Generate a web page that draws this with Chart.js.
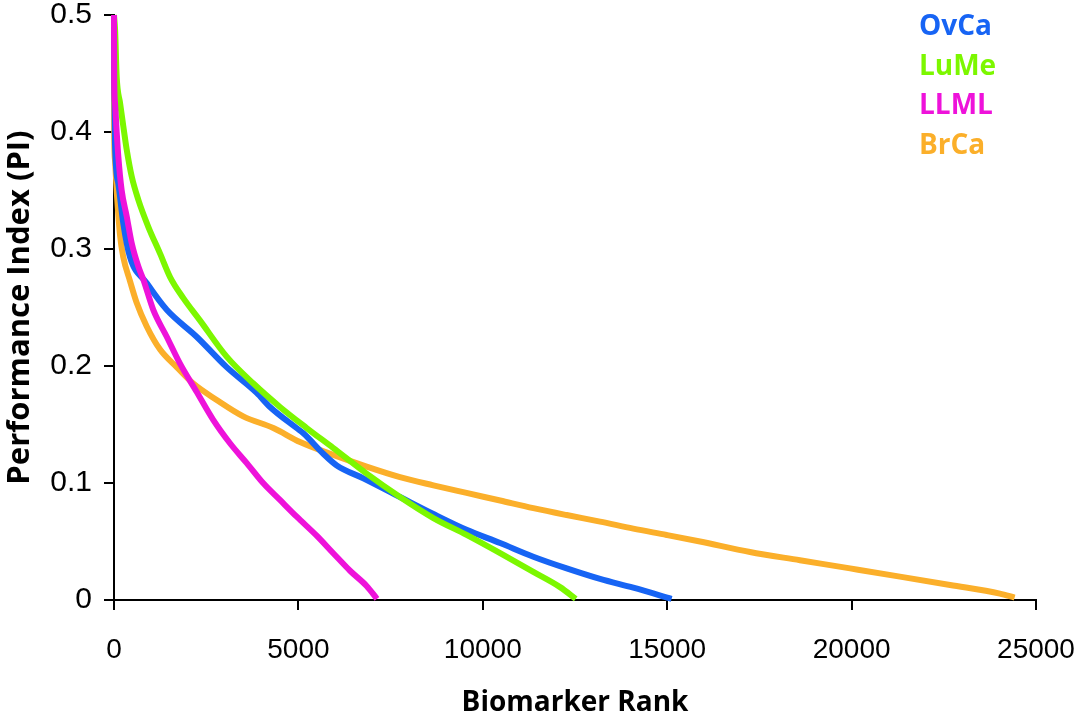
<!DOCTYPE html>
<html>
<head>
<meta charset="utf-8">
<script src="https://cdn.jsdelivr.net/npm/chart.js@4"></script>
<style>
html,body{margin:0;padding:0;background:#fff;}
#wrap{width:1077px;height:720px;position:relative;}
</style>
</head>
<body>
<div id="wrap"><canvas id="c"></canvas></div>
<script>
const seriesNames = ['OvCa', 'LuMe', 'LLML', 'BrCa'];
const seriesColors = ['#1764F4', '#7CF700', '#EE12DA', '#FBAF2A'];

const ovcaRank = [0, 5, 27, 117, 252, 434, 885, 1430, 2240, 3055, 3870, 4230, 4950, 5135, 5675, 6040, 6760, 7755, 8660, 9560, 10470, 11370, 12275, 13180, 14080, 15120];
const ovcaPI   = [0.49, 0.46, 0.39, 0.356, 0.322, 0.293, 0.271, 0.248, 0.225, 0.199, 0.177, 0.165, 0.147, 0.1425, 0.125, 0.115, 0.104, 0.088, 0.0735, 0.060, 0.0487, 0.037, 0.027, 0.018, 0.0105, 0.001];

const lumeRank = [0, 30, 73, 163, 252, 344, 480, 660, 930, 1250, 1520, 1880, 2330, 3055, 3780, 4500, 5225, 5940, 6850, 7755, 8660, 9560, 10470, 11370, 12095, 12520];
const lumePI   = [0.50, 0.487, 0.447, 0.425, 0.405, 0.385, 0.362, 0.342, 0.319, 0.296, 0.276, 0.258, 0.239, 0.208, 0.185, 0.165, 0.147, 0.13, 0.108, 0.088, 0.070, 0.0556, 0.040, 0.024, 0.011, 0.001];

const llmlRank = [0, 5, 27, 73, 117, 208, 344, 480, 660, 795, 1065, 1430, 1790, 2240, 2690, 3145, 3600, 4050, 4500, 4955, 5495, 5945, 6400, 6850, 7130];
const llmlPI   = [0.50, 0.447, 0.425, 0.40, 0.379, 0.35, 0.328, 0.305, 0.285, 0.274, 0.248, 0.225, 0.202, 0.178, 0.154, 0.134, 0.117, 0.0997, 0.0855, 0.0712, 0.055, 0.040, 0.025, 0.012, 0.001];

const brcaRank = [0, 5, 27, 73, 163, 252, 430, 615, 885, 1250, 1700, 2150, 2785, 3505, 4320, 5045, 5945, 6850, 7755, 8660, 9560, 10470, 11370, 12275, 13180, 14080, 14985, 15890, 17245, 18600, 19960, 21310, 22670, 24020, 24420];
const brcaPI   = [0.46, 0.40, 0.376, 0.35, 0.312, 0.293, 0.273, 0.254, 0.234, 0.214, 0.199, 0.185, 0.171, 0.157, 0.147, 0.135, 0.124, 0.114, 0.105, 0.098, 0.0915, 0.085, 0.0785, 0.0726, 0.067, 0.061, 0.0556, 0.050, 0.041, 0.034, 0.027, 0.020, 0.0128, 0.0055, 0.002];

const xTicks = [0, 5000, 10000, 15000, 20000, 25000];
const yTicks = [0, 0.1, 0.2, 0.3, 0.4, 0.5];

const ranks = [ovcaRank, lumeRank, llmlRank, brcaRank];
const pis = [ovcaPI, lumePI, llmlPI, brcaPI];
const drawOrder = [2, 1, 0, 3];

const datasets = seriesNames.map((name, i) => ({
  label: name,
  data: ranks[i].map((r, j) => ({x: r, y: pis[i][j]})),
  borderColor: seriesColors[i],
  backgroundColor: seriesColors[i],
  borderWidth: 6,
  pointRadius: 0,
  cubicInterpolationMode: 'monotone',
  fill: false,
  order: drawOrder[i],
  clip: false
}));

const legendText = {
  id: 'legendText',
  afterDraw(chart) {
    const ctx = chart.ctx;
    ctx.save();
    ctx.font = '700 28px "Open Sans"';
    ctx.textBaseline = 'middle';
    ctx.textAlign = 'left';
    chart.data.datasets.forEach((ds, i) => {
      ctx.fillStyle = ds.borderColor;
      ctx.fillText(ds.label, 919, 27 + i * 39.7);
    });
    ctx.restore();
  }
};

new Chart(document.getElementById('c'), {
  type: 'line',
  data: { datasets },
  plugins: [legendText],
  options: {
    responsive: true,
    maintainAspectRatio: false,
    animation: false,
    layout: { padding: 0 },
    plugins: { legend: { display: false }, tooltip: { enabled: false } },
    scales: {
      x: {
        type: 'linear',
        min: 0, max: 25000,
        afterBuildTicks(scale) { scale.ticks = xTicks.map(v => ({value: v})); },
        afterFit(scale) { scale.height = 120; scale.paddingLeft = 0; scale.paddingRight = 41; },
        ticks: {
          color: '#000',
          font: { family: '"Liberation Sans", Arial, sans-serif', size: 28 },
          padding: 23,
          maxRotation: 0,
          callback: v => String(v)
        },
        grid: { drawOnChartArea: false, drawTicks: true, tickLength: 10, color: '#000', lineWidth: 2 },
        border: { display: true, color: '#000', width: 2 },
        title: {
          display: true, text: 'Biomarker Rank', color: '#000',
          font: { family: '"Open Sans", sans-serif', size: 28, weight: '700' },
          padding: { top: 4, bottom: 0 }
        }
      },
      y: {
        type: 'linear',
        min: 0, max: 0.5,
        afterBuildTicks(scale) { scale.ticks = yTicks.map(v => ({value: v})); },
        afterFit(scale) { scale.width = 114; scale.paddingTop = 15; scale.paddingBottom = 0; },
        ticks: {
          color: '#000',
          font: { family: '"Liberation Sans", Arial, sans-serif', size: 30 },
          padding: 12,
          callback: v => String(v)
        },
        grid: { drawOnChartArea: false, drawTicks: true, tickLength: 10, color: '#000', lineWidth: 2 },
        border: { display: true, color: '#000', width: 2 },
        title: {
          display: true, text: 'Performance Index (PI)', color: '#000',
          font: { family: '"Open Sans", sans-serif', size: 31, weight: '700' },
          padding: { top: 2, bottom: 4 }
        }
      }
    }
  }
});
</script>
</body>
</html>
